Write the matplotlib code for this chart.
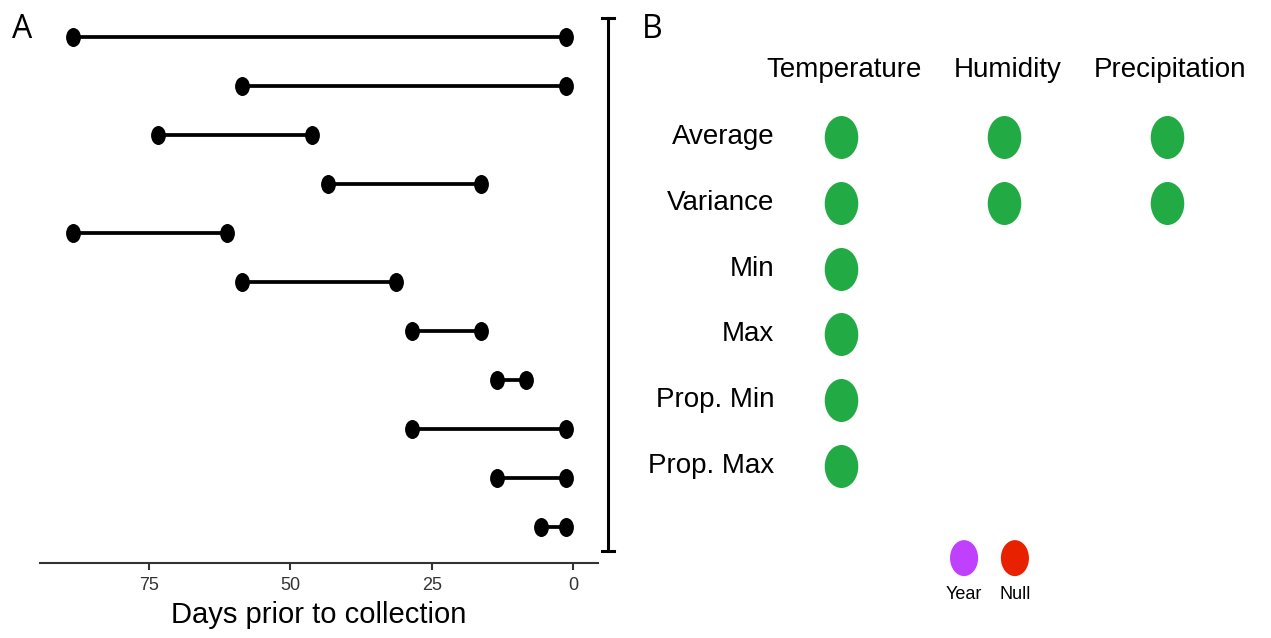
import matplotlib
matplotlib.use("Agg")
import matplotlib.pyplot as plt
from matplotlib.path import Path
from matplotlib.transforms import Affine2D
from matplotlib.lines import Line2D
from matplotlib import font_manager

# ---------------- data ----------------
# Panel A: windows (days prior to collection), top to bottom
window_start = [88.5, 58.6, 73.4, 43.3, 88.5, 58.6, 28.5, 13.4, 28.5, 13.4, 5.7]
window_end = [1.2, 1.2, 46.2, 16.3, 61.2, 31.3, 16.3, 8.3, 1.2, 1.2, 1.2]
xticks_a = [75, 50, 25, 0]
xlabel_a = "Days prior to collection"

# Panel B
variables = ["Temperature", "Humidity", "Precipitation"]
statistics = ["Average", "Variance", "Min", "Max", "Prop. Min", "Prop. Max"]
# which (statistic, variable) cells have a dot: list of (row, col)
present = [(0, 0), (0, 1), (0, 2), (1, 0), (1, 1), (1, 2), (2, 0), (3, 0), (4, 0), (5, 0)]
legend_labels = ["Year", "Null"]
legend_colors = ["#C040FF", "#E82200"]
dot_color = "#22AA44"

# ---------------- fonts ----------------
avail = {f.name for f in font_manager.fontManager.ttflist}
narrow = "Liberation Sans Narrow" if "Liberation Sans Narrow" in avail else "Liberation Sans"

W, H = 1271, 638
fig = plt.figure(figsize=(W / 100, H / 100), dpi=100)

# elliptical marker (taller than wide)
ell = Path.unit_circle().transformed(Affine2D().scale(0.78, 1.0))

# ---------------- panel A ----------------
axA = fig.add_axes([40 / W, 1 - 563 / H, (598 - 40) / W, (563 - 10) / H])
n = len(window_start)
ys = [n - i for i in range(n)]
for y, s, e in zip(ys, window_start, window_end):
    axA.plot([s, e], [y, y], color="black", lw=2.7, solid_capstyle="butt", zorder=2)
    axA.scatter([s, e], [y, y], marker=ell, s=(19 * 0.72) ** 2,
                color="black", zorder=3, linewidths=0)
axA.set_xlim(94.3, -4.4)
axA.set_ylim(0.265, 11.55)
for sp in ["top", "right", "left"]:
    axA.spines[sp].set_visible(False)
axA.spines["bottom"].set_color("#333333")
axA.spines["bottom"].set_linewidth(1.5)
axA.set_yticks([])
axA.set_xticks(xticks_a)
axA.set_xticklabels([str(t) for t in xticks_a], fontfamily=narrow, fontsize=13, color="#333333")
axA.tick_params(axis="x", length=5, width=1.5, color="#333333", pad=5)
axA.set_xlabel(xlabel_a, fontfamily=narrow, fontsize=21, labelpad=5)

fig.text(12 / W, 1 - 38 / H, "A", fontfamily="Open Sans", fontsize=23, ha="left", va="baseline")
fig.text(642 / W, 1 - 38 / H, "B", fontfamily="Open Sans", fontsize=23, ha="left", va="baseline")

# bracket between panels
bx = 608
fig.add_artist(Line2D([bx / W, bx / W], [1 - 18 / H, 1 - 551 / H], color="black", lw=2.2))
fig.add_artist(Line2D([(bx - 6) / W, (bx + 6) / W], [1 - 18 / H, 1 - 18 / H], color="black", lw=2.2))
fig.add_artist(Line2D([(bx - 6) / W, (bx + 6) / W], [1 - 551 / H, 1 - 551 / H], color="black", lw=2.2))

# ---------------- panel B ----------------
axB = fig.add_axes([620 / W, 0, (W - 620) / W, 1])
axB.set_xlim(-(841 - 620) / 163, (W - 841) / 163)
axB.set_ylim((638 - 137) / 65.8, -137 / 65.8)
axB.axis("off")

rows = [r for r, c in present]
cols = [c for r, c in present]
axB.scatter(cols, rows, marker=ell, s=(43 * 0.72) ** 2, color=dot_color, linewidths=0)

for j, v in enumerate(variables):
    axB.text(j + 0.02, -1.02, v, ha="center", va="center", fontfamily=narrow, fontsize=20)
for i, st in enumerate(statistics):
    axB.text(-0.41, i, st, ha="right", va="center", fontfamily=narrow, fontsize=20)

leg_x = [0.755, 1.067]
axB.scatter(leg_x, [6.40, 6.40], marker=ell, s=(36 * 0.72) ** 2, color=legend_colors, linewidths=0)
for x, lab in zip(leg_x, legend_labels):
    axB.text(x, 6.95, lab, ha="center", va="center", fontfamily=narrow, fontsize=13)

fig.savefig("out.png", dpi=100)
